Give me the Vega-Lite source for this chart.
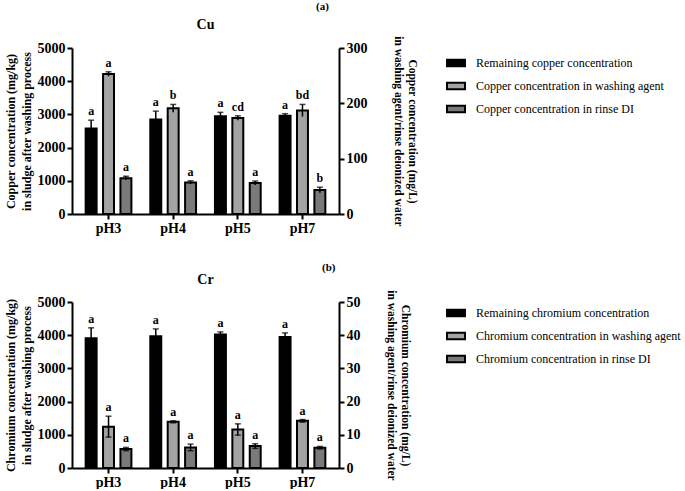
{
  "$schema": "https://vega.github.io/schema/vega-lite/v6.json",
  "padding": {"left": 4, "top": 0, "right": 0, "bottom": 0},
  "background": "white",
  "config": {
    "font": "Liberation Serif",
    "view": {"stroke": null},
    "axis": {
      "domainColor": "black", "domainWidth": 2, "tickColor": "black", "tickWidth": 2, "tickSize": 5,
      "labelFont": "Liberation Serif", "labelFontWeight": "bold", "labelFontSize": 14, "labelColor": "black",
      "titleFont": "Liberation Serif", "titleFontWeight": "bold", "titleFontSize": 12, "titleColor": "black",
      "grid": false
    },
    "axisY": {"format": "d"},
    "title": {"font": "Liberation Serif", "fontWeight": "bold", "color": "black"},
    "legend": {"labelFont": "Liberation Serif", "labelFontSize": 12, "labelColor": "black", "labelLimit": 400}
  },
  "spacing": 26,
  "resolve": {
    "scale": {"color": "independent", "x": "independent", "xOffset": "independent", "y": "independent"},
    "legend": {"color": "independent"}
  },
  "vconcat": [
    {
      "title": {"text": "(a)", "anchor": "start", "fontSize": 11, "dx": 312, "offset": 6},
      "vconcat": [
        {
          "width": 267, "height": 166,
          "title": {"text": "Cu", "fontSize": 14, "frame": "group", "offset": 4},
          "data": {"values": [
            {"pH": "pH3", "series": "Remaining copper concentration", "side": "left", "value": 2576, "lo": 2326, "hi": 2826, "letter": "a"},
            {"pH": "pH3", "series": "Copper concentration in washing agent", "side": "right", "value": 253, "lo": 249, "hi": 257, "letter": "a"},
            {"pH": "pH3", "series": "Copper concentration in rinse DI", "side": "right", "value": 64.8, "lo": 61.5, "hi": 68.2, "letter": "a"},
            {"pH": "pH4", "series": "Remaining copper concentration", "side": "left", "value": 2848, "lo": 2598, "hi": 3098, "letter": "a"},
            {"pH": "pH4", "series": "Copper concentration in washing agent", "side": "right", "value": 191, "lo": 184, "hi": 198, "letter": "b"},
            {"pH": "pH4", "series": "Copper concentration in rinse DI", "side": "right", "value": 57, "lo": 54, "hi": 60, "letter": "a"},
            {"pH": "pH5", "series": "Remaining copper concentration", "side": "left", "value": 2941, "lo": 2820, "hi": 3062, "letter": "a"},
            {"pH": "pH5", "series": "Copper concentration in washing agent", "side": "right", "value": 173.5, "lo": 169.5, "hi": 177.5, "letter": "cd"},
            {"pH": "pH5", "series": "Copper concentration in rinse DI", "side": "right", "value": 56, "lo": 52.5, "hi": 59.5, "letter": "a"},
            {"pH": "pH7", "series": "Remaining copper concentration", "side": "left", "value": 2961, "lo": 2900, "hi": 3022, "letter": "a"},
            {"pH": "pH7", "series": "Copper concentration in washing agent", "side": "right", "value": 187, "lo": 176, "hi": 198, "letter": "bd"},
            {"pH": "pH7", "series": "Copper concentration in rinse DI", "side": "right", "value": 43.5, "lo": 38.5, "hi": 48.5, "letter": "b"}
          ]},
          "encoding": {
            "x": {"field": "pH", "type": "nominal", "sort": ["pH3", "pH4", "pH5", "pH7"],
                  "scale": {"paddingInner": 0.19, "paddingOuter": 0.16},
                  "axis": {"title": null, "labelAngle": 0, "labelPadding": 2}},
            "xOffset": {"field": "series", "type": "nominal",
                        "scale": {"domain": ["Remaining copper concentration", "Copper concentration in washing agent", "Copper concentration in rinse DI"], "paddingInner": 0.37, "paddingOuter": 0.19}}
          },
          "layer": [
            {
              "transform": [{"filter": "datum.side === 'left'"}],
              "layer": [
                {"mark": {"type": "bar", "stroke": "black", "strokeWidth": 2},
                 "encoding": {
                   "y": {"field": "value", "type": "quantitative", "scale": {"domain": [0, 5000], "nice": false},
                         "axis": {"orient": "left", "values": [0, 1000, 2000, 3000, 4000, 5000], "title": ["Copper concentration (mg/kg)", "in sludge after washing process"], "titleLineHeight": 16, "titlePadding": 4}},
                   "color": {"field": "series", "type": "nominal",
                             "scale": {"domain": ["Remaining copper concentration", "Copper concentration in washing agent", "Copper concentration in rinse DI"], "range": ["#000000", "#a3a3a3", "#7a7a7a"]},
                             "legend": {"orient": "none", "legendX": 374, "legendY": 5, "title": null, "symbolType": "M-1,-0.35L1,-0.35L1,0.35L-1,0.35Z", "symbolSize": 324, "symbolStrokeColor": "black", "symbolStrokeWidth": 2, "labelFontWeight": "normal", "rowPadding": 5, "labelOffset": 10}}
                 }},
                {"mark": {"type": "rule", "color": "black", "strokeWidth": 1.5},
                 "encoding": {"y": {"field": "lo", "type": "quantitative", "scale": {"domain": [0, 5000], "nice": false},
                         "axis": {"orient": "left", "values": [0, 1000, 2000, 3000, 4000, 5000], "title": ["Copper concentration (mg/kg)", "in sludge after washing process"], "titleLineHeight": 16, "titlePadding": 4}}, "y2": {"field": "hi"}}},
                {"mark": {"type": "tick", "color": "black", "size": 6, "thickness": 1.5},
                 "encoding": {"y": {"field": "hi", "type": "quantitative", "scale": {"domain": [0, 5000], "nice": false},
                         "axis": {"orient": "left", "values": [0, 1000, 2000, 3000, 4000, 5000], "title": ["Copper concentration (mg/kg)", "in sludge after washing process"], "titleLineHeight": 16, "titlePadding": 4}}}},
                {"mark": {"type": "text", "baseline": "bottom", "dy": -2, "fontWeight": "bold", "fontSize": 12, "color": "black"},
                 "encoding": {"y": {"field": "hi", "type": "quantitative", "scale": {"domain": [0, 5000], "nice": false},
                         "axis": {"orient": "left", "values": [0, 1000, 2000, 3000, 4000, 5000], "title": ["Copper concentration (mg/kg)", "in sludge after washing process"], "titleLineHeight": 16, "titlePadding": 4}}, "text": {"field": "letter"}}}
              ]
            },
            {
              "transform": [{"filter": "datum.side === 'right'"}],
              "layer": [
                {"mark": {"type": "bar", "stroke": "black", "strokeWidth": 2},
                 "encoding": {
                   "y": {"field": "value", "type": "quantitative", "scale": {"domain": [0, 300], "nice": false},
                         "axis": {"orient": "right", "values": [0, 100, 200, 300], "title": ["Copper concentration (mg/L)", "in washing agent/rinse deionized water"], "titleFontSize": 11.5, "titleLineHeight": 14, "titlePadding": 25}},
                   "color": {"field": "series", "type": "nominal",
                             "scale": {"domain": ["Remaining copper concentration", "Copper concentration in washing agent", "Copper concentration in rinse DI"], "range": ["#000000", "#a3a3a3", "#7a7a7a"]}}
                 }},
                {"mark": {"type": "rule", "color": "black", "strokeWidth": 1.5},
                 "encoding": {"y": {"field": "lo", "type": "quantitative", "scale": {"domain": [0, 300], "nice": false},
                         "axis": {"orient": "right", "values": [0, 100, 200, 300], "title": ["Copper concentration (mg/L)", "in washing agent/rinse deionized water"], "titleFontSize": 11.5, "titleLineHeight": 14, "titlePadding": 25}}, "y2": {"field": "hi"}}},
                {"mark": {"type": "tick", "color": "black", "size": 6, "thickness": 1.5},
                 "encoding": {"y": {"field": "hi", "type": "quantitative", "scale": {"domain": [0, 300], "nice": false},
                         "axis": {"orient": "right", "values": [0, 100, 200, 300], "title": ["Copper concentration (mg/L)", "in washing agent/rinse deionized water"], "titleFontSize": 11.5, "titleLineHeight": 14, "titlePadding": 25}}}},
                {"mark": {"type": "text", "baseline": "bottom", "dy": -2, "fontWeight": "bold", "fontSize": 12, "color": "black"},
                 "encoding": {"y": {"field": "hi", "type": "quantitative", "scale": {"domain": [0, 300], "nice": false},
                         "axis": {"orient": "right", "values": [0, 100, 200, 300], "title": ["Copper concentration (mg/L)", "in washing agent/rinse deionized water"], "titleFontSize": 11.5, "titleLineHeight": 14, "titlePadding": 25}}, "text": {"field": "letter"}}}
              ]
            }
          ],
          "resolve": {"scale": {"y": "independent"}}
        }
      ]
    },
    {
      "title": {"text": "(b)", "anchor": "start", "fontSize": 11, "dx": 318, "offset": 0},
      "vconcat": [
        {
          "width": 267, "height": 166,
          "title": {"text": "Cr", "fontSize": 14, "frame": "group", "offset": 3},
          "data": {"values": [
            {"pH": "pH3", "series": "Remaining chromium concentration", "side": "left", "value": 3909, "lo": 3596, "hi": 4222, "letter": "a"},
            {"pH": "pH3", "series": "Chromium concentration in washing agent", "side": "right", "value": 12.4, "lo": 9.3, "hi": 15.6, "letter": "a"},
            {"pH": "pH3", "series": "Chromium concentration in rinse DI", "side": "right", "value": 5.7, "lo": 5.2, "hi": 6.2, "letter": "a"},
            {"pH": "pH4", "series": "Remaining chromium concentration", "side": "left", "value": 3970, "lo": 3750, "hi": 4190, "letter": "a"},
            {"pH": "pH4", "series": "Chromium concentration in washing agent", "side": "right", "value": 13.9, "lo": 13.6, "hi": 14.2, "letter": "a"},
            {"pH": "pH4", "series": "Chromium concentration in rinse DI", "side": "right", "value": 6.2, "lo": 5.2, "hi": 7.2, "letter": "a"},
            {"pH": "pH5", "series": "Remaining chromium concentration", "side": "left", "value": 4020, "lo": 3940, "hi": 4100, "letter": "a"},
            {"pH": "pH5", "series": "Chromium concentration in washing agent", "side": "right", "value": 11.6, "lo": 9.9, "hi": 13.3, "letter": "a"},
            {"pH": "pH5", "series": "Chromium concentration in rinse DI", "side": "right", "value": 6.6, "lo": 5.9, "hi": 7.3, "letter": "a"},
            {"pH": "pH7", "series": "Remaining chromium concentration", "side": "left", "value": 3949, "lo": 3829, "hi": 4069, "letter": "a"},
            {"pH": "pH7", "series": "Chromium concentration in washing agent", "side": "right", "value": 14.2, "lo": 13.8, "hi": 14.6, "letter": "a"},
            {"pH": "pH7", "series": "Chromium concentration in rinse DI", "side": "right", "value": 6.1, "lo": 5.7, "hi": 6.5, "letter": "a"}
          ]},
          "encoding": {
            "x": {"field": "pH", "type": "nominal", "sort": ["pH3", "pH4", "pH5", "pH7"],
                  "scale": {"paddingInner": 0.19, "paddingOuter": 0.16},
                  "axis": {"title": null, "labelAngle": 0, "labelPadding": 2}},
            "xOffset": {"field": "series", "type": "nominal",
                        "scale": {"domain": ["Remaining chromium concentration", "Chromium concentration in washing agent", "Chromium concentration in rinse DI"], "paddingInner": 0.37, "paddingOuter": 0.19}}
          },
          "layer": [
            {
              "transform": [{"filter": "datum.side === 'left'"}],
              "layer": [
                {"mark": {"type": "bar", "stroke": "black", "strokeWidth": 2},
                 "encoding": {
                   "y": {"field": "value", "type": "quantitative", "scale": {"domain": [0, 5000], "nice": false},
                         "axis": {"orient": "left", "values": [0, 1000, 2000, 3000, 4000, 5000], "title": ["Chromium concentration (mg/kg)", "in sludge after washing process"], "titleLineHeight": 16, "titlePadding": 4}},
                   "color": {"field": "series", "type": "nominal",
                             "scale": {"domain": ["Remaining chromium concentration", "Chromium concentration in washing agent", "Chromium concentration in rinse DI"], "range": ["#000000", "#a3a3a3", "#7a7a7a"]},
                             "legend": {"orient": "none", "legendX": 374, "legendY": 1, "title": null, "symbolType": "M-1,-0.35L1,-0.35L1,0.35L-1,0.35Z", "symbolSize": 324, "symbolStrokeColor": "black", "symbolStrokeWidth": 2, "labelFontWeight": "normal", "rowPadding": 5, "labelOffset": 10}}
                 }},
                {"mark": {"type": "rule", "color": "black", "strokeWidth": 1.5},
                 "encoding": {"y": {"field": "lo", "type": "quantitative", "scale": {"domain": [0, 5000], "nice": false},
                         "axis": {"orient": "left", "values": [0, 1000, 2000, 3000, 4000, 5000], "title": ["Chromium concentration (mg/kg)", "in sludge after washing process"], "titleLineHeight": 16, "titlePadding": 4}}, "y2": {"field": "hi"}}},
                {"mark": {"type": "tick", "color": "black", "size": 6, "thickness": 1.5},
                 "encoding": {"y": {"field": "hi", "type": "quantitative", "scale": {"domain": [0, 5000], "nice": false},
                         "axis": {"orient": "left", "values": [0, 1000, 2000, 3000, 4000, 5000], "title": ["Chromium concentration (mg/kg)", "in sludge after washing process"], "titleLineHeight": 16, "titlePadding": 4}}}},
                {"mark": {"type": "text", "baseline": "bottom", "dy": -2, "fontWeight": "bold", "fontSize": 12, "color": "black"},
                 "encoding": {"y": {"field": "hi", "type": "quantitative", "scale": {"domain": [0, 5000], "nice": false},
                         "axis": {"orient": "left", "values": [0, 1000, 2000, 3000, 4000, 5000], "title": ["Chromium concentration (mg/kg)", "in sludge after washing process"], "titleLineHeight": 16, "titlePadding": 4}}, "text": {"field": "letter"}}}
              ]
            },
            {
              "transform": [{"filter": "datum.side === 'right'"}],
              "layer": [
                {"mark": {"type": "bar", "stroke": "black", "strokeWidth": 2},
                 "encoding": {
                   "y": {"field": "value", "type": "quantitative", "scale": {"domain": [0, 50], "nice": false},
                         "axis": {"orient": "right", "values": [0, 10, 20, 30, 40, 50], "title": ["Chromium concentration (mg/L)", "in washing agent/rinse deionized water"], "titleFontSize": 11.5, "titleLineHeight": 14, "titlePadding": 25}},
                   "color": {"field": "series", "type": "nominal",
                             "scale": {"domain": ["Remaining chromium concentration", "Chromium concentration in washing agent", "Chromium concentration in rinse DI"], "range": ["#000000", "#a3a3a3", "#7a7a7a"]}}
                 }},
                {"mark": {"type": "rule", "color": "black", "strokeWidth": 1.5},
                 "encoding": {"y": {"field": "lo", "type": "quantitative", "scale": {"domain": [0, 50], "nice": false},
                         "axis": {"orient": "right", "values": [0, 10, 20, 30, 40, 50], "title": ["Chromium concentration (mg/L)", "in washing agent/rinse deionized water"], "titleFontSize": 11.5, "titleLineHeight": 14, "titlePadding": 25}}, "y2": {"field": "hi"}}},
                {"mark": {"type": "tick", "color": "black", "size": 6, "thickness": 1.5},
                 "encoding": {"y": {"field": "hi", "type": "quantitative", "scale": {"domain": [0, 50], "nice": false},
                         "axis": {"orient": "right", "values": [0, 10, 20, 30, 40, 50], "title": ["Chromium concentration (mg/L)", "in washing agent/rinse deionized water"], "titleFontSize": 11.5, "titleLineHeight": 14, "titlePadding": 25}}}},
                {"mark": {"type": "tick", "color": "black", "size": 6, "thickness": 1.5},
                 "encoding": {"y": {"field": "lo", "type": "quantitative", "scale": {"domain": [0, 50], "nice": false},
                         "axis": {"orient": "right", "values": [0, 10, 20, 30, 40, 50], "title": ["Chromium concentration (mg/L)", "in washing agent/rinse deionized water"], "titleFontSize": 11.5, "titleLineHeight": 14, "titlePadding": 25}}}},
                {"mark": {"type": "text", "baseline": "bottom", "dy": -2, "fontWeight": "bold", "fontSize": 12, "color": "black"},
                 "encoding": {"y": {"field": "hi", "type": "quantitative", "scale": {"domain": [0, 50], "nice": false},
                         "axis": {"orient": "right", "values": [0, 10, 20, 30, 40, 50], "title": ["Chromium concentration (mg/L)", "in washing agent/rinse deionized water"], "titleFontSize": 11.5, "titleLineHeight": 14, "titlePadding": 25}}, "text": {"field": "letter"}}}
              ]
            }
          ],
          "resolve": {"scale": {"y": "independent"}}
        }
      ]
    }
  ]
}
